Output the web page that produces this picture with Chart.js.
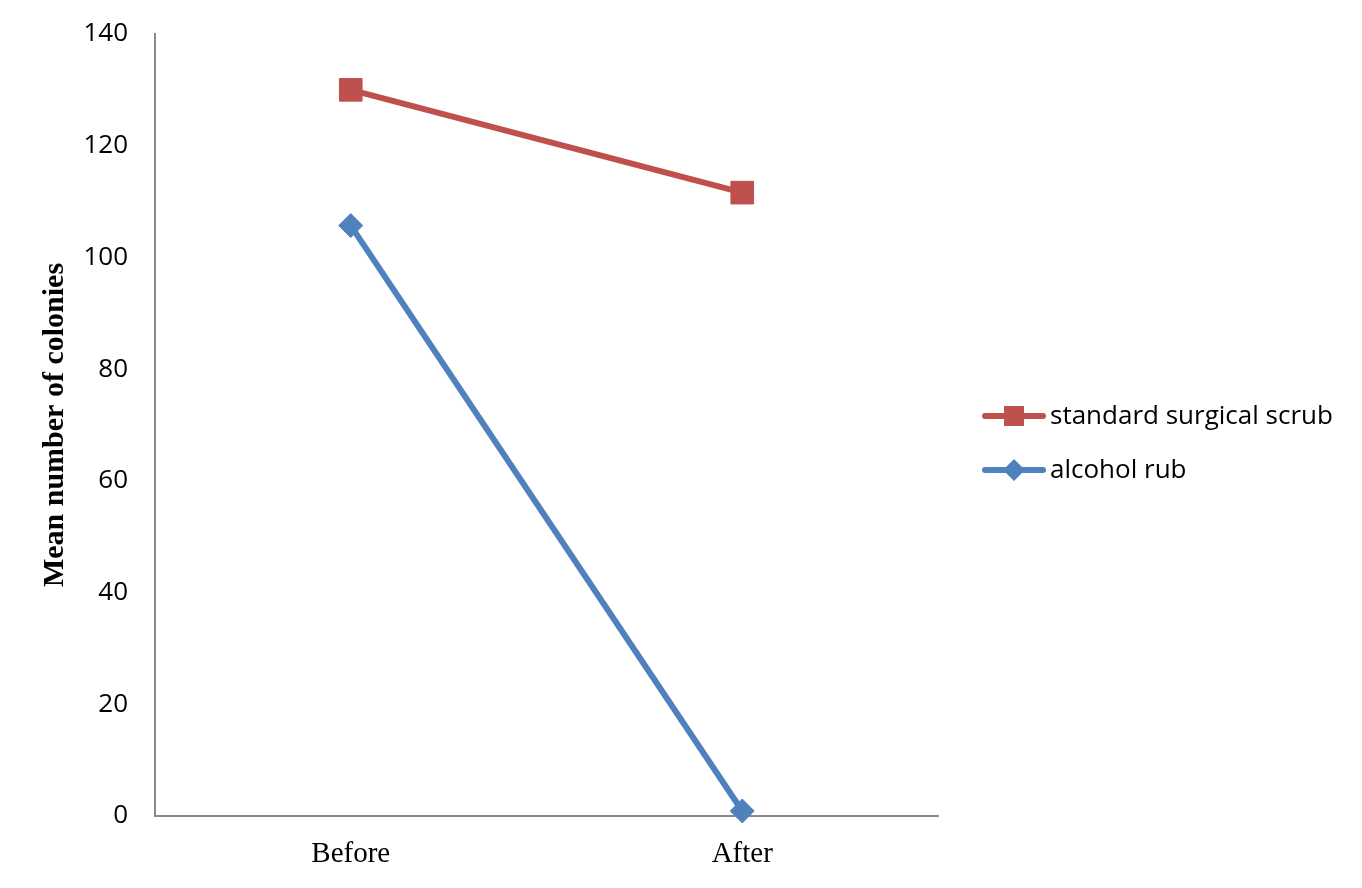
<!DOCTYPE html>
<html>
<head>
<meta charset="utf-8">
<script src="https://cdn.jsdelivr.net/npm/chart.js@4/dist/chart.umd.min.js"></script>
<style>
  html, body { margin: 0; padding: 0; background: #ffffff; }
  #wrap { width: 1362px; height: 888px; position: relative; }
</style>
</head>
<body>
<div id="wrap"><canvas id="c" width="1362" height="888"></canvas></div>
<script>
const categories = ['Before', 'After'];
const seriesNames = ['standard surgical scrub', 'alcohol rub'];
const scrubValues = [130, 111.6];
const alcoholValues = [105.7, 0.9];
const yTicks = [0, 20, 40, 60, 80, 100, 120, 140];
const yTitle = 'Mean number of colonies';

const RED = '#C0504D';
const BLUE = '#4F81BD';
const AXIS = '#8a8a8a';
const SANS = "'Open Sans', 'Noto Sans', sans-serif";
const SERIF = "'Liberation Serif', 'Times New Roman', serif";

const sideLegend = {
  id: 'sideLegend',
  afterDraw(chart) {
    const ctx = chart.ctx;
    const rows = [416, 470];
    chart.data.datasets.forEach((ds, i) => {
      const y = rows[i];
      ctx.save();
      ctx.strokeStyle = ds.borderColor;
      ctx.lineWidth = 6;
      ctx.lineCap = 'round';
      ctx.beginPath();
      ctx.moveTo(985, y);
      ctx.lineTo(1043, y);
      ctx.stroke();
      ctx.fillStyle = ds.backgroundColor;
      ctx.beginPath();
      const cx = 1014;
      if (ds.pointStyle === 'rect') {
        ctx.rect(cx - 10, y - 10, 20, 20);
      } else {
        ctx.moveTo(cx - 11, y);
        ctx.lineTo(cx, y - 11);
        ctx.lineTo(cx + 11, y);
        ctx.lineTo(cx, y + 11);
        ctx.closePath();
      }
      ctx.fill();
      ctx.fillStyle = '#000000';
      ctx.font = '26px ' + SANS;
      ctx.textAlign = 'left';
      ctx.textBaseline = 'middle';
      ctx.fillText(ds.label, 1050, y + 1);
      ctx.restore();
    });
  }
};

new Chart(document.getElementById('c'), {
  type: 'line',
  data: {
    labels: categories,
    datasets: [
      {
        label: seriesNames[0],
        data: scrubValues,
        borderColor: RED,
        backgroundColor: RED,
        borderWidth: 6,
        pointStyle: 'rect',
        pointRadius: 16,
        pointBorderWidth: 1,
        pointBorderColor: RED,
        pointBackgroundColor: RED,
        tension: 0,
        clip: false
      },
      {
        label: seriesNames[1],
        data: alcoholValues,
        borderColor: BLUE,
        backgroundColor: BLUE,
        borderWidth: 6,
        pointStyle: 'rectRot',
        pointRadius: 12,
        pointBorderWidth: 1,
        pointBorderColor: BLUE,
        pointBackgroundColor: BLUE,
        tension: 0,
        clip: false
      }
    ]
  },
  options: {
    responsive: false,
    animation: false,
    devicePixelRatio: 1,
    layout: { padding: { top: 34, right: 424, bottom: 0, left: 0 } },
    plugins: {
      legend: { display: false },
      tooltip: { enabled: false },
      title: { display: false }
    },
    scales: {
      x: {
        type: 'category',
        offset: true,
        grid: { display: false, drawTicks: false },
        border: { display: true, color: AXIS, width: 2 },
        ticks: {
          color: '#000000',
          font: { family: SERIF, size: 29 },
          padding: 21,
          maxRotation: 0
        },
        afterFit(scale) {
          scale.height = 72;
          scale.paddingLeft = 0;
          scale.paddingRight = 0;
        }
      },
      y: {
        min: 0,
        max: 140,
        afterBuildTicks(scale) { scale.ticks = yTicks.map(v => ({ value: v })); },
        grid: { display: false, drawTicks: false },
        border: { display: true, color: AXIS, width: 2 },
        ticks: {
          color: '#000000',
          font: { family: SANS, size: 26 },
          padding: 27
        },
        title: {
          display: true,
          text: yTitle,
          color: '#000000',
          font: { family: SERIF, size: 30, weight: 'bold' },
          padding: { top: 37, bottom: 0 }
        },
        afterFit(scale) {
          scale.width = 155;
          scale.paddingTop = 0;
          scale.paddingBottom = 0;
        }
      }
    }
  },
  plugins: [sideLegend]
});
</script>
</body>
</html>
